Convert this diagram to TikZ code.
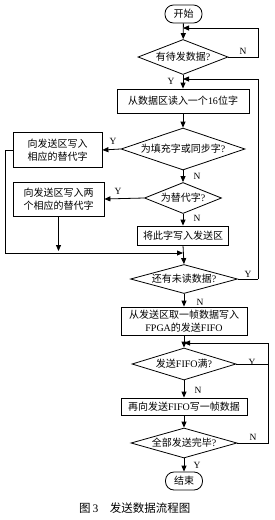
\documentclass[tikz,border=0pt]{standalone}
\usepackage{fontspec}
\setmainfont{Liberation Serif}
\newfontfamily\cjk{Noto Sans CJK SC}
\usetikzlibrary{shapes.geometric,arrows.meta}
\begin{document}
\begin{tikzpicture}[x=1pt,y=-1pt,
  every node/.style={font=\fontsize{10}{12.5}\selectfont, inner sep=0pt},
  box/.style={draw, line width=0.8pt, align=center},
  dia/.style={draw, line width=0.8pt, diamond},
  term/.style={draw, line width=0.8pt, rounded corners=8.5pt, minimum width=37pt, minimum height=18pt},
  lab/.style={font=\fontsize{9.5}{10}\selectfont},
  ln/.style={line width=0.8pt},
  arr/.style={line width=0.8pt, -{Triangle[length=6pt,width=5pt]}}]
\useasboundingbox (0,0) rectangle (275,520);
\fill[white] (0,0) rectangle (275,520);
% nodes
\node[term] (st) at (183.5,14) {\cjk 开始};
\node[dia, minimum width=90pt, minimum height=35pt] (d1) at (183,57) {};
\node (d1t) at (d1) {{\cjk 有待发数据}?};
\node[box, minimum width=132pt, minimum height=24pt] (b1) at (183,101) {{\cjk 从数据区读入一个}16{\cjk 位字}};
\node[dia, minimum width=124pt, minimum height=42pt] (d2) at (183,149) {};
\node (d2t) at (d2) {{\cjk 为填充字或同步字}?};
\node[box, minimum width=89pt, minimum height=35pt] (L1) at (57.5,150) {\cjk 向发送区写入\\\cjk 相应的替代字};
\node[dia, minimum width=77pt, minimum height=31pt] (d3) at (183,198) {};
\node (d3t) at (d3) {{\cjk 为替代字}?};
\node[box, minimum width=91pt, minimum height=34pt] (L2) at (58.5,199) {\cjk 向发送区写入两\\\cjk 个相应的替代字};
\node[box, minimum width=91pt, minimum height=19pt] (b2) at (183,235.5) {\cjk 将此字写入发送区};
\coordinate (m) at (183,253);
\node[dia, minimum width=107pt, minimum height=29pt] (d4) at (184,279) {};
\node (d4t) at (d4) {{\cjk 还有未读数据}?};
\node[box, minimum width=126pt, minimum height=28pt] (b3) at (184,321) {{\cjk 从发送区取一帧数据写入}\\FPGA{\cjk 的发送}FIFO};
\node[dia, minimum width=104pt, minimum height=32pt] (d5) at (184,364) {};
\node (d5t) at (d5) {{\cjk 发送}FIFO{\cjk 满}?};
\node[box, minimum width=126pt, minimum height=17pt] (b4) at (184,406.5) {{\cjk 再向发送}FIFO{\cjk 写一帧数据}};
\node[dia, minimum width=106pt, minimum height=30pt] (d6) at (184,443) {};
\node (d6t) at (d6) {{\cjk 全部发送完毕}?};
\node[term] (en) at (184,481) {\cjk 结束};
\node[anchor=west, font=\fontsize{11.5}{12}\selectfont] (cap) at (79,508) {{\cjk 图}\,3\quad{\cjk 发送数据流程图}};
% coordinates
\coordinate (j1) at (183,28);
\coordinate (r1a) at (258,57);
\coordinate (r1b) at (258,28);
\coordinate (j2) at (183,79);
\coordinate (r2a) at (258,279);
\coordinate (r2b) at (258,79);
\coordinate (la) at (5,150);
\coordinate (lb) at (5,253);
\coordinate (l2b) at (58.5,251);
\coordinate (j3) at (184,343);
\coordinate (r3a) at (268,364);
\coordinate (r3b) at (268,343);
\coordinate (r4a) at (268,443);
% connectors
\draw[arr] (st) -- (d1);
\draw[arr] (d1.east) -- (r1a) -- (r1b) -- (j1);
\draw[arr] (d1.south) -- (b1.north);
\draw[arr] (r2a) -- (r2b) -- (j2);
\draw[ln] (d4.east) -- (r2a);
\draw[arr] (b1) -- (d2);
\draw[arr] (d2.west) -- (L1.east);
\draw[arr] (d2.south) -- (d3.north);
\draw[arr] (d3.west) -- (L2.east);
\draw[arr] (d3.south) -- (b2.north);
\draw[arr] (L1.west) -- (la) -- (lb) -- (m);
\draw[arr] (L2.south) -- (l2b);
\draw[arr] (b2.south) -- (d4.north);
\draw[arr] (d4.south) -- (b3.north);
\draw[arr] (b3.south) -- (d5.north);
\draw[arr] (d5.east) -- (r3a) -- (r3b) -- (j3);
\draw[arr] (d5.south) -- (b4.north);
\draw[arr] (b4.south) -- (d6.north);
\draw[ln] (d6.east) -- (r4a) -- (r3a);
\draw[arr] (d6.south) -- (en.north);
% labels
\node[lab] (n1) at (243,51) {N};
\node[lab] (y1) at (171,81) {Y};
\node[lab] (y2) at (113,141) {Y};
\node[lab] (n2) at (197,176) {N};
\node[lab] (y3) at (118,191) {Y};
\node[lab] (n3) at (197,218) {N};
\node[lab] (y4) at (248,274) {Y};
\node[lab] (n4) at (200,302) {N};
\node[lab] (y5) at (252,362) {Y};
\node[lab] (n5) at (198,390) {N};
\node[lab] (n6) at (253,437) {N};
\node[lab] (y6) at (197,465) {Y};
\end{tikzpicture}
\end{document}
